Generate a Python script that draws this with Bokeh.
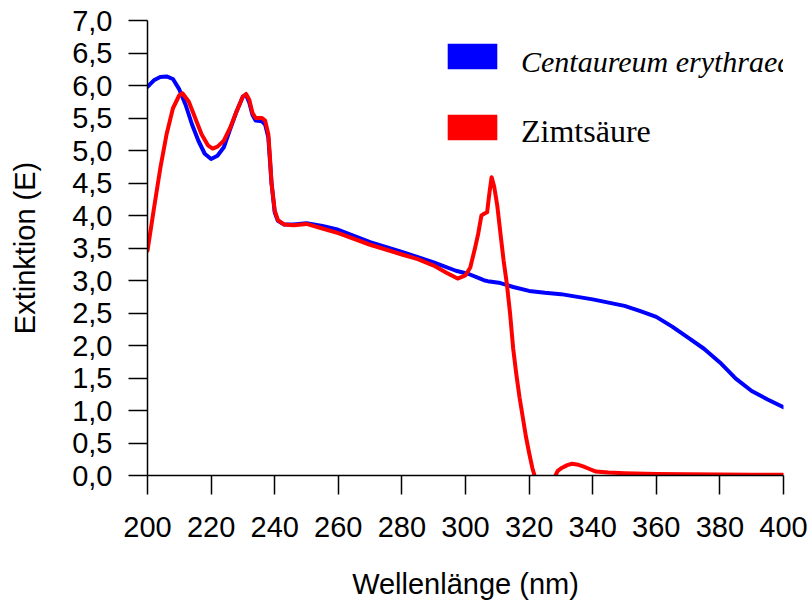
import numpy as np
from bokeh.plotting import figure
from bokeh.models import FixedTicker, Legend, LegendItem, ColumnDataSource
from bokeh.embed import file_html
from bokeh.resources import INLINE

nan = float("nan")

# Centaureum erythraea
wl_c = [200, 202, 204, 206, 208, 210, 212, 214, 216, 218, 220, 222, 224, 226, 228,
        230, 231, 232, 233, 234, 236, 237, 238, 238.5, 239, 240, 241, 243, 246, 250,
        255, 260, 270, 280, 290, 297, 301, 305, 306, 307, 311, 315, 320, 325, 330,
        340, 345, 350, 355, 360, 365, 370, 375, 380, 385, 390, 395, 400]
ext_c = [5.98, 6.08, 6.13, 6.14, 6.10, 5.94, 5.70, 5.40, 5.15, 4.95, 4.87, 4.92, 5.05, 5.33, 5.60,
         5.83, 5.85, 5.74, 5.55, 5.46, 5.45, 5.40, 5.20, 4.85, 4.50, 4.05, 3.92, 3.86, 3.86, 3.88,
         3.84, 3.78, 3.59, 3.44, 3.28, 3.15, 3.10, 3.02, 3.00, 2.99, 2.96, 2.90, 2.84, 2.81, 2.79,
         2.71, 2.66, 2.61, 2.53, 2.44, 2.29, 2.12, 1.95, 1.74, 1.49, 1.30, 1.17, 1.05]

# Zimtsäure
wl_z = [200, 202, 204, 206, 208, 210, 211, 213, 215, 217, 219, 220.5, 222, 224, 226, 228,
        230, 231, 232, 233, 234, 236, 237, 238, 238.5, 239, 240, 241, 243, 246, 250, 255,
        260, 270, 280, 285, 290, 294, 297.5, 300, 301.5, 303, 304, 305, 306, 306.8, 307.5,
        308.2, 309, 310, 311, 312, 313, 314, 315, 316, 317, 318, 319, 320, 321, 321.7,
        325, 328.3, 329, 330.4, 332, 333.5, 335, 337, 339, 341, 345, 350, 360, 370, 380, 390, 400]
ext_z = [3.46, 4.10, 4.72, 5.25, 5.65, 5.85, 5.88, 5.75, 5.50, 5.25, 5.08, 5.03, 5.06, 5.15, 5.35, 5.60,
         5.83, 5.87, 5.78, 5.58, 5.50, 5.50, 5.46, 5.25, 4.90, 4.50, 4.08, 3.93, 3.86, 3.85, 3.87, 3.80,
         3.73, 3.55, 3.40, 3.33, 3.23, 3.12, 3.03, 3.08, 3.20, 3.50, 3.72, 4.00, 4.03, 4.05, 4.34,
         4.59, 4.45, 4.15, 3.72, 3.30, 2.95, 2.50, 1.95, 1.55, 1.20, 0.90, 0.60, 0.35, 0.12, 0.0,
         nan, 0.0, 0.07, 0.12, 0.16, 0.18, 0.17, 0.14, 0.10, 0.06, 0.045, 0.035, 0.025, 0.02, 0.015, 0.012, 0.01]

x_ticks = [200, 220, 240, 260, 280, 300, 320, 340, 360, 380, 400]
y_ticks = [0.0, 0.5, 1.0, 1.5, 2.0, 2.5, 3.0, 3.5, 4.0, 4.5, 5.0, 5.5, 6.0, 6.5, 7.0]
y_tick_labels = ["0,0", "0,5", "1,0", "1,5", "2,0", "2,5", "3,0", "3,5", "4,0", "4,5",
                 "5,0", "5,5", "6,0", "6,5", "7,0"]

series_names = ["Centaureum erythraea", "Zimtsäure"]
series_colors = ["#0000FF", "#FF0000"]

p = figure(width=812, height=608, output_backend="svg", toolbar_location=None,
           x_range=(200, 400), y_range=(0, 7),
           min_border_left=147, min_border_right=29, min_border_top=20, min_border_bottom=133)
p.outline_line_color = None
p.grid.visible = False
p.background_fill_color = "white"

src_c = ColumnDataSource(dict(x=np.array(wl_c, dtype=float), y=np.array(ext_c, dtype=float)))
src_z = ColumnDataSource(dict(x=np.array(wl_z, dtype=float), y=np.array(ext_z, dtype=float)))
p.line("x", "y", source=src_c, line_color=series_colors[0], line_width=4, line_join="round", line_cap="round")
p.line("x", "y", source=src_z, line_color=series_colors[1], line_width=4, line_join="round", line_cap="round")

# legend swatches (invisible quads so the legend shows filled rectangles)
sw_src = ColumnDataSource(dict(l=np.array([nan]), r=np.array([nan]), t=np.array([nan]), b=np.array([nan])))
sw_c = p.quad(left="l", right="r", top="t", bottom="b", source=sw_src,
              fill_color=series_colors[0], line_color=None)
sw_z = p.quad(left="l", right="r", top="t", bottom="b", source=sw_src,
              fill_color=series_colors[1], line_color=None)
sw_none = p.quad(left="l", right="r", top="t", bottom="b", source=sw_src,
                 fill_alpha=0, line_color=None)

def make_legend(name, rend, loc, style, size="32px"):
    lg = Legend(items=[LegendItem(label=name, renderers=[rend], index=0)], location=loc,
                orientation="vertical")
    lg.glyph_width = 62
    lg.glyph_height = 32
    lg.label_height = 32
    lg.label_standoff = 18
    lg.padding = 0
    lg.margin = 0
    lg.spacing = 0
    lg.border_line_color = None
    lg.background_fill_alpha = 0
    lg.label_text_font = "Liberation Serif"
    lg.label_text_font_size = size
    lg.label_text_font_style = style
    lg.label_text_color = "black"
    p.add_layout(lg)

# swatches
make_legend(" ", sw_c, (294, 403), "normal")
make_legend(" ", sw_z, (294, 332), "normal")
# labels (slightly lower than the swatches, as in the original)
make_legend(series_names[0], sw_none, (294, 396), "italic", "30px")
make_legend(series_names[1], sw_none, (294, 325), "normal", "32px")

for ax in (p.xaxis[0], p.yaxis[0]):
    ax.major_tick_in = 0
    ax.major_tick_out = 19
    ax.minor_tick_in = 0
    ax.minor_tick_out = 0
    ax.axis_line_width = 1.5
    ax.major_tick_line_width = 1.5
    ax.axis_line_color = "black"
    ax.major_tick_line_color = "black"
    ax.major_label_text_font = "Liberation Sans"
    ax.major_label_text_font_size = "29px"
    ax.major_label_text_color = "black"
    ax.axis_label_text_font = "Liberation Sans"
    ax.axis_label_text_font_size = "29px"
    ax.axis_label_text_font_style = "normal"
    ax.axis_label_text_color = "black"

p.xaxis.ticker = FixedTicker(ticks=x_ticks)
p.yaxis.ticker = FixedTicker(ticks=y_ticks)
p.yaxis.major_label_overrides = {t: l for t, l in zip(y_ticks, y_tick_labels)}
p.xaxis.axis_label = "Wellenlänge (nm)"
p.yaxis.axis_label = "Extinktion (E)"
p.xaxis.major_label_standoff = 22
p.yaxis.major_label_standoff = 16
p.xaxis.axis_label_standoff = 28
p.yaxis.axis_label_standoff = 28

open("out.html", "w").write(file_html(p, INLINE))
